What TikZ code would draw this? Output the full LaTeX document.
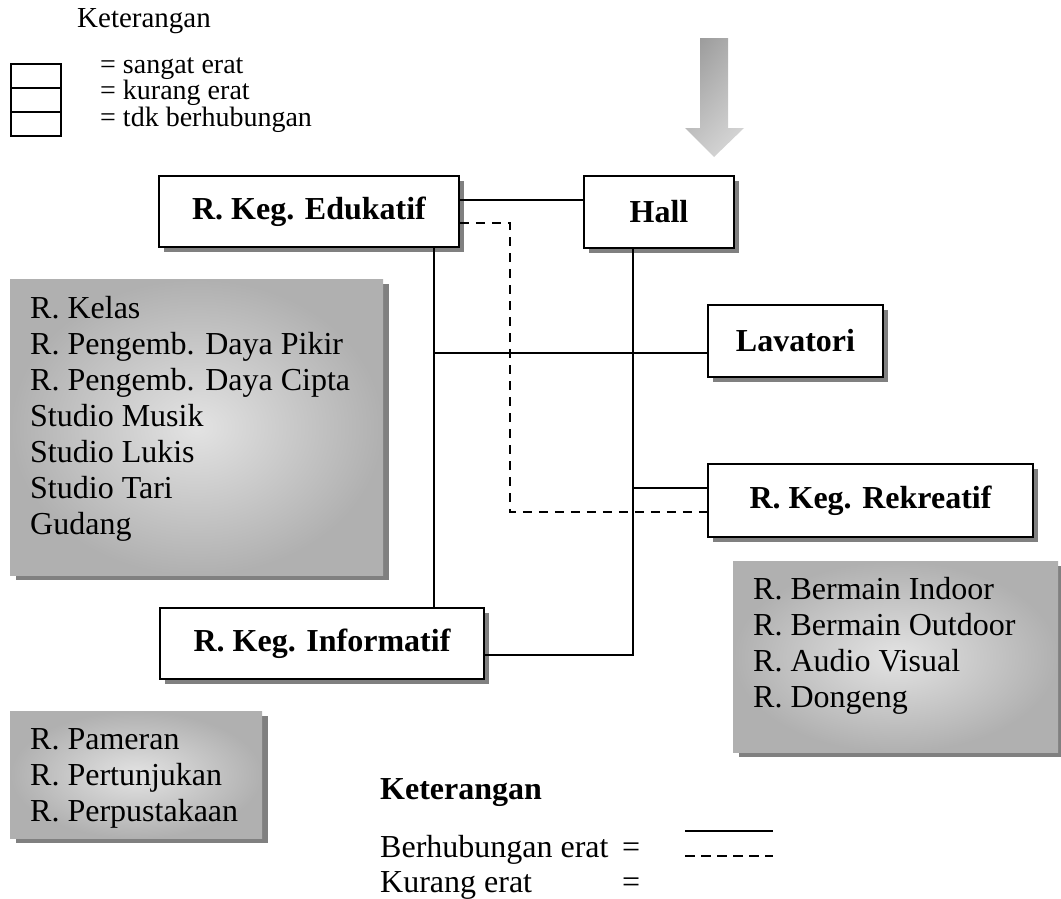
\documentclass[tikz,border=0pt]{standalone}
\usepackage{fontspec}
\setmainfont{Liberation Serif}
\usetikzlibrary{shadows,shadings,calc}
\begin{document}
\begin{tikzpicture}[x=1pt,y=-1pt,
  conn/.style={line width=2pt},
  weak/.style={line width=2pt, dash pattern=on 9pt off 7pt},
  roombox/.style={draw, line width=1.6pt, fill=white, inner sep=0pt,
    font=\fontsize{32}{36}\selectfont\bfseries,
    general shadow={fill=black!50, shadow xshift=5pt, shadow yshift=-5pt}},
  listbox/.style={inner sep=0pt, anchor=north west,
    inner color=black!11, outer color=black!31,
    general shadow={fill=black!50, shadow xshift=6pt, shadow yshift=-5pt}},
  listtext/.style={inner sep=0pt, anchor=north west, align=left,
    font=\fontsize{32}{36}\selectfont},
  keytext/.style={inner sep=0pt, anchor=base west, text height=17pt, text depth=5pt,
    font=\fontsize{28}{28}\selectfont},
  lowtext/.style={inner sep=0pt, anchor=base west, font=\fontsize{32}{32}\selectfont},
  keycell/.style={draw, line width=1.6pt, inner sep=0pt, anchor=north west,
    minimum width=50pt, minimum height=24pt}
]
\useasboundingbox (0,0) rectangle (1061,898);

% key at the top left
\node[keytext, font=\fontsize{29}{29}\selectfont] (keytitle) at (77,27) {Keterangan};
\node[keycell] (cell1) at (10,63) {};
\node[keycell] (cell2) at (10,87) {};
\node[keycell] (cell3) at (10,111) {};
\node[keytext] (key1) at (100,73) {= sangat erat};
\node[keytext] (key2) at (100,99.5) {= kurang erat};
\node[keytext] (key3) at (100,126) {= tdk berhubungan};

% entrance arrow
\shade[upper left=black!42, upper right=black!30, lower left=black!22, lower right=black!13]
  (700,38) -- (728,38) -- (728,128) -- (744,128) -- (714,157) -- (685,128) -- (700,128) -- cycle;

% room groups
\node[roombox, minimum width=300pt, minimum height=71pt] (edu) at (309,211.5) {R. Keg. Edukatif};
\node[roombox, minimum width=150pt, minimum height=72pt] (hall) at (659,212) {Hall};
\node[roombox, minimum width=175pt, minimum height=72pt] (lav) at (795.5,341) {Lavatori};
\node[roombox, minimum width=325pt, minimum height=73pt] (rek) at (870.5,500.5) {R. Keg. Rekreatif};
\node[roombox, minimum width=324pt, minimum height=71pt] (inf) at (322,643.5) {R. Keg. Informatif};

% room lists
\node[listbox, minimum width=373pt, minimum height=296pt] (edulist) at (10,279) {};
\node[listtext] (edutext) at (30,296) {R. Kelas\\R. Pengemb. Daya Pikir\\R. Pengemb. Daya Cipta\\Studio Musik\\Studio Lukis\\Studio Tari\\Gudang};

\node[listbox, minimum width=325pt, minimum height=191pt] (reklist) at (733,561) {};
\node[listtext] (rektext) at (753,577) {R. Bermain Indoor\\R. Bermain Outdoor\\R. Audio Visual\\R. Dongeng};

\node[listbox, minimum width=252pt, minimum height=127pt] (inflist) at (10,711) {};
\node[listtext] (inftext) at (30,728) {R. Pameran\\R. Pertunjukan\\R. Perpustakaan};

% connectors
\coordinate (eh) at ($(edu.east)+(0,-11.5)$);
\draw[conn] (eh) -- (eh -| hall.west);

\coordinate (ed) at ($(edu.east)+(0,11.5)$);
\coordinate (rd) at ($(rek.west)+(0,11.5)$);
\draw[weak] (ed) -- ++(50,0) |- (rd);

\coordinate (ev) at ($(edu.south)+(125,0)$);
\draw[conn] (ev) -- (ev |- inf.north);

\coordinate (lw) at ($(lav.west)+(0,12)$);
\draw[conn] (lw -| ev) -- (lw);

\coordinate (hv) at ($(hall.south)+(-26,0)$);
\coordinate (ie) at ($(inf.east)+(0,11.5)$);
\draw[conn] (hv) |- (ie);

\coordinate (rs) at ($(rek.west)+(0,-12.5)$);
\draw[conn] (rs -| hv) -- (rs);

% line key at the bottom
\node[lowtext, font=\fontsize{32}{32}\selectfont\bfseries] (lowtitle) at (380,799) {Keterangan};
\node[lowtext] (strong) at (380,857) {Berhubungan erat};
\node[lowtext] (strongeq) at (622,857) {=};
\node[lowtext] (less) at (380,892) {Kurang erat};
\node[lowtext] (lesseq) at (622,892) {=};
\coordinate (s1) at (685,831);
\coordinate (s2) at (773,831);
\coordinate (d1) at (685,856);
\coordinate (d2) at (773,856);
\draw[conn] (s1) -- (s2);
\draw[line width=2pt, dash pattern=on 10pt off 6pt] (d1) -- (d2);
\end{tikzpicture}
\end{document}
